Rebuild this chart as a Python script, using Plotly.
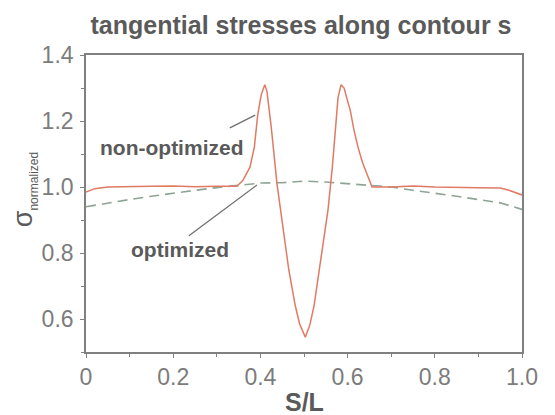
import plotly.graph_objects as go

# non-optimized (solid red)
s_nonopt = [0.0, 0.02, 0.05, 0.1, 0.15, 0.2, 0.25, 0.3, 0.346, 0.36, 0.376, 0.386, 0.394, 0.402,
            0.41, 0.415, 0.425, 0.438, 0.45, 0.465, 0.48, 0.49, 0.503, 0.513, 0.523, 0.535,
            0.545, 0.555, 0.565, 0.572, 0.578, 0.585, 0.592, 0.598, 0.606, 0.615, 0.624, 0.634,
            0.644, 0.656, 0.7, 0.75, 0.8, 0.85, 0.9, 0.95, 0.97, 1.0]
sig_nonopt = [0.985, 0.995, 1.0, 1.0, 1.002, 1.003, 1.001, 1.002, 1.002, 1.02, 1.06, 1.12, 1.22, 1.28,
              1.31, 1.29, 1.18, 1.01, 0.89, 0.75, 0.64, 0.585, 0.545, 0.58, 0.64, 0.75,
              0.85, 0.93, 1.06, 1.18, 1.27, 1.31, 1.30, 1.27, 1.233, 1.17, 1.12, 1.075,
              1.042, 1.0, 1.0, 1.003, 1.0, 0.998, 0.998, 0.997, 0.99, 0.976]

# optimized (dashed grey-green)
s_opt = [0.0, 0.05, 0.1, 0.15, 0.2, 0.25, 0.3, 0.35, 0.4, 0.45, 0.5, 0.55, 0.6, 0.65, 0.7,
         0.75, 0.8, 0.85, 0.9, 0.95, 1.0]
sig_opt = [0.94, 0.952, 0.962, 0.972, 0.982, 0.99, 0.998, 1.005, 1.012, 1.013, 1.018, 1.015,
           1.01, 1.005, 1.0, 0.99, 0.982, 0.972, 0.962, 0.952, 0.932]

x_tickvals = [0, 0.2, 0.4, 0.6, 0.8, 1.0]
x_ticktext = ["0", "0.2", "0.4", "0.6", "0.8", "1.0"]
y_tickvals = [0.6, 0.8, 1.0, 1.2, 1.4]
y_ticktext = ["0.6", "0.8", "1.0", "1.2", "1.4"]

# label texts and leader-line ends (label anchor, curve end)
label_texts = ["<b>non-optimized</b>", "<b>optimized</b>"]
label_pos = [(0.195, 1.121), (0.216, 0.812)]
leader_from = [(0.330, 1.179), (0.236, 0.852)]
leader_to = [(0.388, 1.218), (0.392, 1.006)]

axis_col = "#808080"
text_col = "#5a5a5a"
tick_col = "#7c7c7c"
FONT = "Arial, Liberation Sans, sans-serif"

fig = go.Figure()
fig.add_trace(go.Scatter(x=s_opt, y=sig_opt, mode="lines",
                         line=dict(color="#90a496", width=1.6, dash="10px,6px"),
                         showlegend=False))
fig.add_trace(go.Scatter(x=s_nonopt, y=sig_nonopt, mode="lines",
                         line=dict(color="#e07a63", width=1.5),
                         showlegend=False))

for (x0, y0), (x1, y1) in zip(leader_from, leader_to):
    fig.add_shape(type="line", xref="x", yref="y", x0=x0, y0=y0, x1=x1, y1=y1,
                  line=dict(color="#707070", width=1.3))

for txt, (lx, ly) in zip(label_texts, label_pos):
    fig.add_annotation(x=lx, y=ly, xref="x", yref="y", text=txt, showarrow=False,
                       font=dict(family=FONT, size=21, color=text_col))

# y axis title
fig.add_annotation(x=-0.142, y=0.545, xref="paper", yref="paper", textangle=-90,
                   text="σ<sub><span style='font-size:12px'>normalized</span></sub>",
                   showarrow=False, xanchor="center", yanchor="middle",
                   font=dict(family=FONT, size=27, color=text_col))
# x axis title
fig.add_annotation(x=0.5, y=-0.168, xref="paper", yref="paper", text="<b>S/L</b>",
                   showarrow=False, xanchor="center", yanchor="middle",
                   font=dict(family=FONT, size=25, color=text_col))

fig.update_layout(
    width=547, height=407,
    margin=dict(l=78, r=33, t=47, b=63),
    paper_bgcolor="white", plot_bgcolor="white",
    font=dict(family=FONT, color=tick_col),
    title=dict(text="<b>tangential stresses along contour s</b>", x=293 / 547, xanchor="center",
               y=1 - 17 / 407, yanchor="middle", yref="container", xref="container",
               font=dict(family=FONT, size=25, color=text_col)),
    xaxis=dict(range=[0, 1], tickvals=x_tickvals, ticktext=x_ticktext,
               showgrid=False, zeroline=False, showline=True, linecolor=axis_col, linewidth=1.6,
               mirror=True, ticks="outside", ticklen=4, tickcolor=axis_col, tickwidth=1.2,
               minor=dict(dtick=0.1, tick0=0, ticks="outside", ticklen=3, tickcolor=axis_col, showgrid=False),
               tickfont=dict(family=FONT, size=23, color=tick_col)),
    yaxis=dict(range=[0.5, 1.4], tickvals=y_tickvals, ticktext=y_ticktext,
               showgrid=False, zeroline=False, showline=True, linecolor=axis_col, linewidth=1.6,
               mirror=True, ticks="outside", ticklen=4, tickcolor=axis_col, tickwidth=1.2,
               minor=dict(dtick=0.1, tick0=0.5, ticks="outside", ticklen=3, tickcolor=axis_col, showgrid=False),
               tickfont=dict(family=FONT, size=23, color=tick_col), ticklabelstandoff=2),
)

fig.write_html("out.html")
